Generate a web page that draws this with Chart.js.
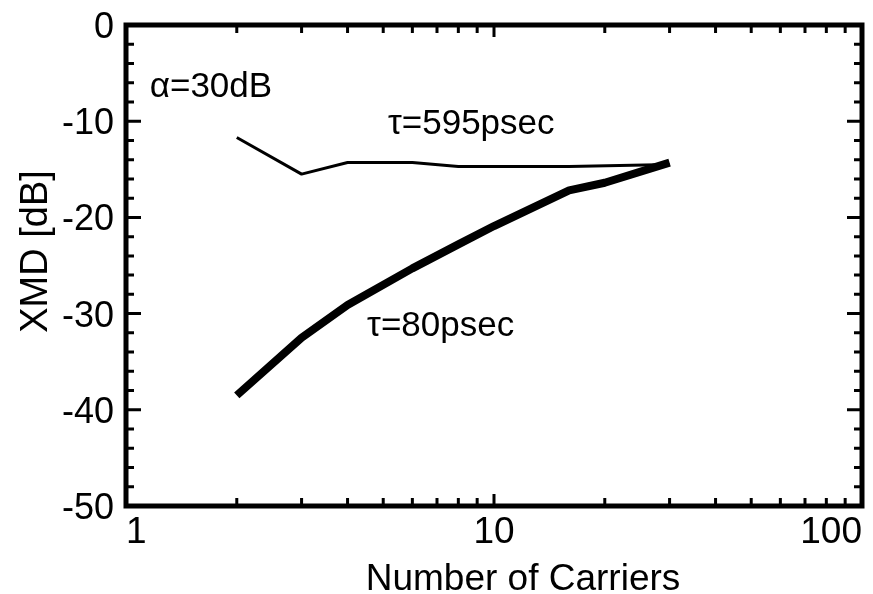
<!DOCTYPE html>
<html>
<head>
<meta charset="utf-8">
<title>XMD vs number of carriers</title>
<script src="https://cdn.jsdelivr.net/npm/chart.js@4"></script>
<style>
  html, body { margin: 0; padding: 0; background: #fff; }
  #wrap { width: 873px; height: 594px; }
</style>
</head>
<body>
<div id="wrap"><canvas id="xmdChart" width="873" height="594"></canvas></div>
<script>
// tau = 595 psec
const carriers595 = [2, 3, 4, 6, 8, 16, 30];
const xmd595 = [-11.7, -15.5, -14.3, -14.3, -14.7, -14.7, -14.5];

// tau = 80 psec
const carriers80 = [2, 3, 4, 6, 8, 10, 16, 20, 30];
const xmd80 = [-38.5, -32.5, -29.1, -25.3, -22.8, -20.9, -17.2, -16.4, -14.3];

// axis ticks
const xMajorTicks = [1, 10, 100];
const xMinorTicks = [2, 3, 4, 5, 6, 7, 8, 9, 20, 30, 40, 50, 60, 70, 80, 90];
const yMajorTicks = [0, -10, -20, -30, -40, -50];
const yMinorTicks = [-2, -4, -6, -8, -12, -14, -16, -18, -22, -24, -26, -28,
                     -32, -34, -36, -38, -42, -44, -46, -48];

// in-plot labels: [text, x value, y value]
const notes = [
    ['\u03b1=30dB', 1.16, -7.5],
    ['\u03c4=595psec', 5.15, -11.3],
    ['\u03c4=80psec', 4.52, -32.3]
];

const FONT = '"Liberation Sans", Arial, Helvetica, sans-serif';

function toPoints(xs, ys) {
    return xs.map((x, i) => ({ x: x, y: ys[i] }));
}

function drawText(ctx, str, x, y, align, size, rot) {
    ctx.save();
    ctx.translate(x, y);
    if (rot) ctx.rotate(rot);
    ctx.font = size + 'px ' + FONT;
    ctx.fillStyle = '#000';
    ctx.textAlign = align;
    ctx.textBaseline = 'alphabetic';
    ctx.fillText(str, 0, 0);
    ctx.restore();
}

// frame with inward ticks on all four sides, tick labels and titles
const framePlugin = {
    id: 'frame',
    afterDraw(chart) {
        const ctx = chart.ctx;
        const a = chart.chartArea;
        const xs = chart.scales.x;
        const ys = chart.scales.y;

        ctx.save();
        ctx.strokeStyle = '#000';
        ctx.lineCap = 'butt';

        ctx.lineWidth = 3;
        ctx.beginPath();
        const xTick = (v, len) => {
            const px = xs.getPixelForValue(v);
            ctx.moveTo(px, a.bottom); ctx.lineTo(px, a.bottom - len);
            ctx.moveTo(px, a.top); ctx.lineTo(px, a.top + len);
        };
        const yTick = (v, len) => {
            const py = ys.getPixelForValue(v);
            ctx.moveTo(a.left, py); ctx.lineTo(a.left + len, py);
            ctx.moveTo(a.right, py); ctx.lineTo(a.right - len, py);
        };
        xMinorTicks.forEach(v => xTick(v, 8));
        xMajorTicks.forEach(v => xTick(v, 12));
        yMinorTicks.forEach(v => yTick(v, 8));
        yMajorTicks.forEach(v => yTick(v, 15));
        ctx.stroke();

        ctx.lineWidth = 5;
        ctx.strokeRect(a.left, a.top, a.right - a.left, a.bottom - a.top);
        ctx.restore();

        // tick labels
        yMajorTicks.forEach(v => {
            drawText(ctx, String(v), a.left - 12, ys.getPixelForValue(v) + 13, 'right', 36);
        });
        xMajorTicks.forEach((v, i) => {
            const align = i === 0 ? 'left' : (i === xMajorTicks.length - 1 ? 'right' : 'center');
            drawText(ctx, String(v), xs.getPixelForValue(v), a.bottom + 37, align, 37);
        });

        // axis titles
        drawText(ctx, 'Number of Carriers', (a.left + a.right) / 2 + 29, a.bottom + 84, 'center', 37);
        drawText(ctx, 'XMD [dB]', 47, (a.top + a.bottom) / 2 - 14, 'center', 38, -Math.PI / 2);

        // curve labels
        notes.forEach(n => {
            drawText(ctx, n[0], xs.getPixelForValue(n[1]), ys.getPixelForValue(n[2]), 'left', 35);
        });
    }
};

new Chart(document.getElementById('xmdChart'), {
    type: 'line',
    data: {
        datasets: [
            {
                label: '\u03c4=595psec',
                data: toPoints(carriers595, xmd595),
                borderColor: '#000',
                borderWidth: 3,
                pointRadius: 0,
                tension: 0,
                borderJoinStyle: 'round'
            },
            {
                label: '\u03c4=80psec',
                data: toPoints(carriers80, xmd80),
                borderColor: '#000',
                borderWidth: 8,
                pointRadius: 0,
                tension: 0,
                borderJoinStyle: 'round'
            }
        ]
    },
    options: {
        responsive: false,
        animation: false,
        events: [],
        layout: {
            padding: { left: 126, right: 11, top: 25, bottom: 88 }
        },
        scales: {
            x: { type: 'logarithmic', min: 1, max: 100, display: false },
            y: { type: 'linear', min: -50, max: 0, display: false }
        },
        plugins: {
            legend: { display: false },
            tooltip: { enabled: false }
        }
    },
    plugins: [framePlugin]
});
</script>
</body>
</html>
